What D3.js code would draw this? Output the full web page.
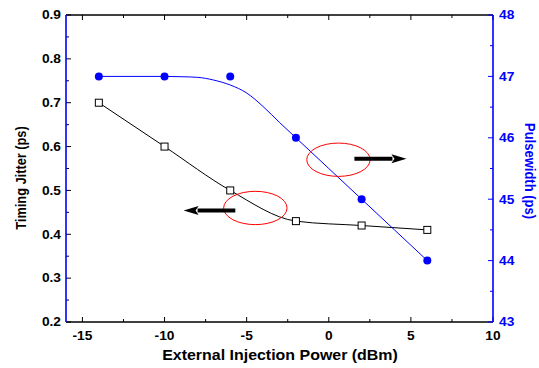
<!DOCTYPE html>
<html>
<head>
<meta charset="utf-8">
<script src="https://cdn.jsdelivr.net/npm/d3@7/dist/d3.min.js"></script>
<style>
  html, body { margin: 0; padding: 0; background: #fff; }
  svg { display: block; }
  text { font-family: "Liberation Sans", Arial, sans-serif; font-weight: bold; }
</style>
</head>
<body>
<svg id="chart" width="539" height="368"></svg>
<script>
// Measured data: external injection power (dBm)
const power = [-14, -10, -6, -2, 2, 6];
// Timing jitter (ps), left axis
const jitter = [0.70, 0.60, 0.50, 0.43, 0.42, 0.41];
// Pulse width (ps), right axis
const pulsewidth = [47, 47, 47, 46, 45, 44];

// Fitted pulse-width curve, sampled
const fitPower = [-14, -10, -9, -8, -7, -6, -5, -4, -3, -2, 0, 2, 4, 6];
const fitPulse = [47.0, 47.0, 46.995, 46.985, 46.94, 46.86, 46.73, 46.51, 46.25, 46.0, 45.5, 45.0, 44.5, 44.0];

// Axis ticks
const xTicks = [-15, -10, -5, 0, 5, 10];
const yLeftTicks = [0.2, 0.3, 0.4, 0.5, 0.6, 0.7, 0.8, 0.9];
const yRightTicks = [43, 44, 45, 46, 47, 48];

// Annotation ellipses (centre in power / jitter units) and arrows
const ellipses = [
  { x: 0.59, y: 0.57 },
  { x: -4.47, y: 0.46 }
];
const arrows = [
  { from: 1.56, to: 4.73, y: 0.572 },
  { from: -5.69, to: -8.84, y: 0.454 }
];

const svg = d3.select("#chart");
const L = 66, R = 493, T = 15, B = 322;
const SX = 1.1; // horizontal widening of the lettering

const x = d3.scaleLinear().domain([-16, 10]).range([L, R]);
const yL = d3.scaleLinear().domain([0.2, 0.9]).range([B, T]);
const yR = d3.scaleLinear().domain([43, 48]).range([B, T]);

const blue = "#0000ff";

// Horizontal text label, widened slightly
function label(g, px, py, str, size, anchor, fill) {
  g.append("text")
    .attr("transform", `translate(${px},${py}) scale(${SX},1)`)
    .attr("text-anchor", anchor).attr("font-size", size)
    .attr("fill", fill || "#000").text(str);
}

// Frame: top and bottom black
svg.append("line").attr("x1", L).attr("x2", R).attr("y1", T).attr("y2", T)
  .attr("stroke", "#000").attr("stroke-width", 1.4);
svg.append("line").attr("x1", L).attr("x2", R).attr("y1", B).attr("y2", B)
  .attr("stroke", "#000").attr("stroke-width", 1.4);

// Bottom and top axes with inward ticks
const xMinor = d3.range(-15, 10.01, 2.5);
const gx = svg.append("g");
xMinor.forEach(v => {
  const major = Math.abs(v % 5) < 1e-9;
  const len = major ? 5 : 3;
  gx.append("line").attr("x1", x(v)).attr("x2", x(v)).attr("y1", B).attr("y2", B - len)
    .attr("stroke", "#000").attr("stroke-width", 1);
  gx.append("line").attr("x1", x(v)).attr("x2", x(v)).attr("y1", T).attr("y2", T + len)
    .attr("stroke", "#000").attr("stroke-width", 1);
});
xTicks.forEach(v => label(gx, x(v), B + 17.5, v, 12.5, "middle"));

// Left axis
const yMinorL = d3.range(0.2, 0.9001, 0.05);
const gl = svg.append("g");
yMinorL.forEach((v, i) => {
  const len = i % 2 === 0 ? 5 : 3;
  gl.append("line").attr("x1", L).attr("x2", L + len).attr("y1", yL(v)).attr("y2", yL(v))
    .attr("stroke", "#000").attr("stroke-width", 1);
});
yLeftTicks.forEach(v => label(gl, L - 5, yL(v) + 4.3, v.toFixed(1), 12.5, "end"));

// Right axis
const yMinorR = d3.range(43, 48.001, 0.5);
const gr = svg.append("g");
yMinorR.forEach((v, i) => {
  const len = i % 2 === 0 ? 5 : 3;
  gr.append("line").attr("x1", R).attr("x2", R - len).attr("y1", yR(v)).attr("y2", yR(v))
    .attr("stroke", blue).attr("stroke-width", 1);
});
yRightTicks.forEach(v => label(gr, R + 6, yR(v) + 4.3, v, 12.5, "start", blue));

svg.append("line").attr("x1", L).attr("x2", L).attr("y1", T).attr("y2", B)
  .attr("stroke", blue).attr("stroke-width", 1.6);
svg.append("line").attr("x1", R).attr("x2", R).attr("y1", T).attr("y2", B)
  .attr("stroke", blue).attr("stroke-width", 1.6);

// Axis titles
label(svg, (L + R) / 2 + 0.5, 360, "External Injection Power (dBm)", 14.5, "middle");
svg.append("text").attr("transform", `translate(25.5,178) rotate(-90) scale(1,${SX})`)
  .attr("text-anchor", "middle").attr("font-size", 12.8).text("Timing Jitter (ps)");
svg.append("text").attr("transform", `translate(525,171) rotate(90) scale(1,${SX})`)
  .attr("text-anchor", "middle").attr("font-size", 13).attr("fill", blue).text("Pulsewidth (ps)");

// Jitter curve through the measurements
const jitterPts = power.map((p, i) => [p, jitter[i]]);
svg.append("path")
  .datum(jitterPts)
  .attr("fill", "none").attr("stroke", "#000").attr("stroke-width", 1)
  .attr("d", d3.line().x(d => x(d[0])).y(d => yL(d[1])).curve(d3.curveMonotoneX));

// Fitted pulse-width curve
const fitPts = fitPower.map((p, i) => [p, fitPulse[i]]);
svg.append("path")
  .datum(fitPts)
  .attr("fill", "none").attr("stroke", blue).attr("stroke-width", 1)
  .attr("d", d3.line().x(d => x(d[0])).y(d => yR(d[1])).curve(d3.curveMonotoneX));

// Markers
svg.append("g").selectAll("rect").data(jitterPts).join("rect")
  .attr("x", d => x(d[0]) - 3.5).attr("y", d => yL(d[1]) - 3.5)
  .attr("width", 7).attr("height", 7)
  .attr("fill", "#fff").attr("stroke", "#000").attr("stroke-width", 1);

svg.append("g").selectAll("circle").data(power.map((p, i) => [p, pulsewidth[i]])).join("circle")
  .attr("cx", d => x(d[0])).attr("cy", d => yR(d[1])).attr("r", 4)
  .attr("fill", blue);

// Annotation ellipses
const rxUnits = 1.93, ryUnits = 0.038;
svg.append("g").selectAll("ellipse").data(ellipses).join("ellipse")
  .attr("cx", d => x(d.x)).attr("cy", d => yL(d.y))
  .attr("rx", x(rxUnits) - x(0)).attr("ry", yL(0.2) - yL(0.2 + ryUnits))
  .attr("fill", "none").attr("stroke", "#ff0000").attr("stroke-width", 1);

// Annotation arrows
const ga = svg.append("g");
arrows.forEach(a => {
  const x0 = x(a.from), x1 = x(a.to), yy = yL(a.y);
  const dir = Math.sign(x1 - x0);
  const headLen = 15, headHalf = 4.5;
  const xb = x1 - dir * headLen;
  ga.append("line").attr("x1", x0).attr("x2", xb + dir * 1).attr("y1", yy).attr("y2", yy)
    .attr("stroke", "#000").attr("stroke-width", 4);
  ga.append("path")
    .attr("d", `M${x1},${yy} L${xb},${yy - headHalf} L${xb + dir * 3},${yy} L${xb},${yy + headHalf} Z`)
    .attr("fill", "#000");
});
</script>
</body>
</html>
